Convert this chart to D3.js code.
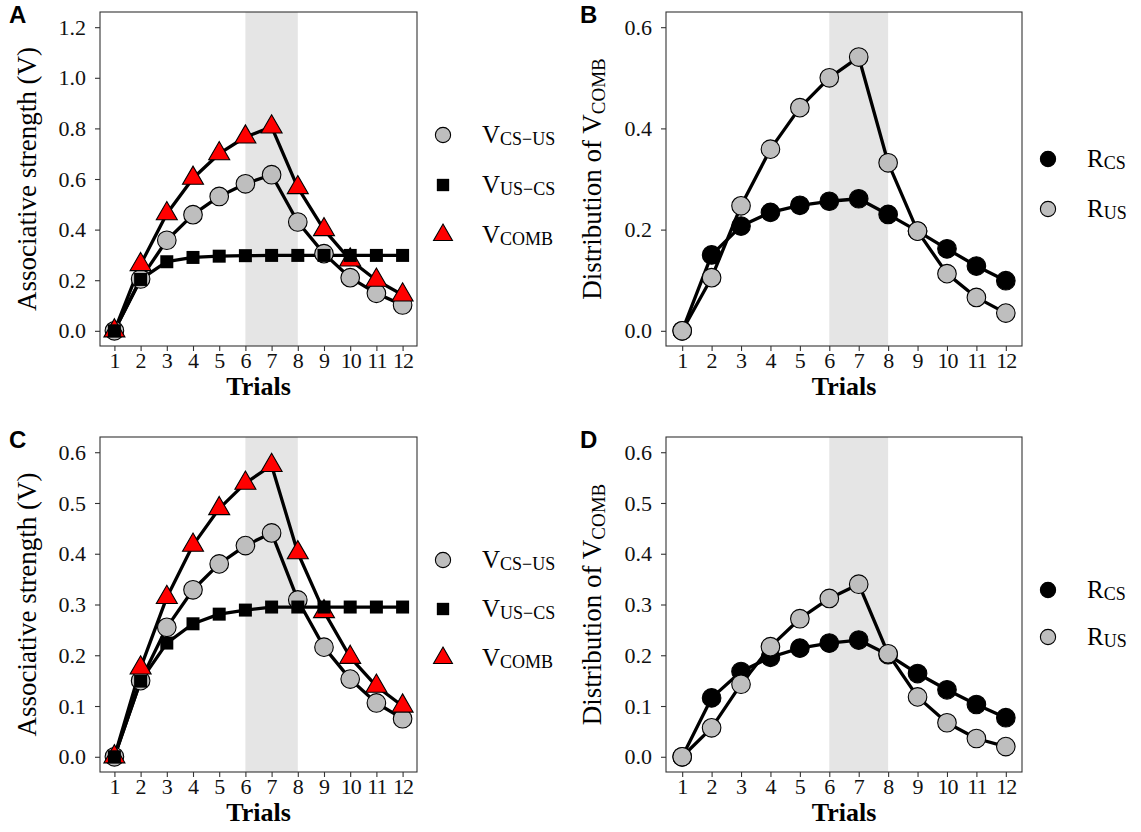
<!DOCTYPE html>
<html>
<head>
<meta charset="utf-8">
<script src="https://cdn.jsdelivr.net/npm/d3@7"></script>
<style>
  body { margin: 0; background: #fff; }
  svg text { font-family: 'Liberation Serif', 'Times New Roman', serif; }
</style>
</head>
<body>
<div id="chart"></div>
<script>
// trials on the x axis
const trials = [1, 2, 3, 4, 5, 6, 7, 8, 9, 10, 11, 12];
const shadeTrials = [6, 8];

// panel A, associative strength
const aCsUs = [0, 0.205, 0.358, 0.459, 0.531, 0.581, 0.617, 0.430, 0.305, 0.210, 0.148, 0.102];
const aUsCs = [0, 0.203, 0.273, 0.290, 0.295, 0.297, 0.298, 0.298, 0.298, 0.298, 0.298, 0.298];
const aComb = [0, 0.262, 0.463, 0.603, 0.700, 0.766, 0.806, 0.566, 0.400, 0.280, 0.200, 0.142];
const aTicks = [0, 0.2, 0.4, 0.6, 0.8, 1.0, 1.2];

// panel B, distribution of V_COMB
const bRcs = [0, 0.150, 0.207, 0.234, 0.248, 0.256, 0.261, 0.230, 0.197, 0.162, 0.128, 0.099];
const bRus = [0, 0.105, 0.247, 0.359, 0.441, 0.500, 0.541, 0.332, 0.197, 0.113, 0.066, 0.035];
const bTicks = [0, 0.2, 0.4, 0.6];

// panel C, associative strength
const cCsUs = [0, 0.150, 0.255, 0.329, 0.380, 0.416, 0.441, 0.309, 0.216, 0.153, 0.106, 0.075];
const cUsCs = [0, 0.149, 0.224, 0.262, 0.281, 0.289, 0.295, 0.295, 0.295, 0.295, 0.295, 0.295];
const cComb = [0, 0.175, 0.314, 0.417, 0.489, 0.539, 0.574, 0.402, 0.286, 0.196, 0.139, 0.100];
const cTicks = [0, 0.1, 0.2, 0.3, 0.4, 0.5, 0.6];

// panel D, distribution of V_COMB
const dRcs = [0, 0.116, 0.168, 0.196, 0.214, 0.224, 0.230, 0.201, 0.164, 0.132, 0.103, 0.077];
const dRus = [0, 0.057, 0.143, 0.217, 0.272, 0.312, 0.340, 0.203, 0.118, 0.067, 0.036, 0.020];
const dTicks = [0, 0.1, 0.2, 0.3, 0.4, 0.5, 0.6];

const W = 1141, H = 832;
const GREY = '#bebebe', RED = '#ff0000', INK = '#000';

const svg = d3.select('#chart').append('svg')
  .attr('width', W)
  .attr('height', H)
  .attr('viewBox', `0 0 ${W} ${H}`);

class TrialPanel {
  constructor(parent, config) {
    let defaults = {
      left: 0, top: 0, width: 300, height: 300,
      yMax: 0.6, ticks: [], series: [], legend: [],
      letter: 'A', yTitle: '', yTitleSub: '',
      legendX: 0, legendRows: []
    };
    Object.assign(this, defaults, config);
    this.g = parent.append('g').attr('transform', `translate(${this.left},${this.top})`);
    this.init();
  }

  init() {
    this.makeScales();
    this.drawShade();
    this.drawAxes();
    this.drawSeries();
    this.drawFrame();
    this.drawTitles();
    this.drawLegend();
  }

  makeScales() {
    let xPad = (trials[trials.length - 1] - trials[0]) * 0.05;
    this.x = d3.scaleLinear()
      .domain([trials[0] - xPad, trials[trials.length - 1] + xPad])
      .range([0, this.width]);
    this.y = d3.scaleLinear()
      .domain([-this.yMax * 0.05, this.yMax * 1.05])
      .range([this.height, 0]);
  }

  drawShade() {
    this.g.append('rect')
      .attr('x', this.x(shadeTrials[0]))
      .attr('y', 0)
      .attr('width', this.x(shadeTrials[1]) - this.x(shadeTrials[0]))
      .attr('height', this.height)
      .attr('fill', '#e5e5e5');
  }

  drawAxes() {
    let xAxis = this.g.append('g')
      .attr('transform', `translate(0,${this.height})`)
      .call(d3.axisBottom(this.x).tickValues(trials).tickFormat(d3.format('d'))
        .tickSize(5).tickSizeOuter(0).tickPadding(1));
    let yAxis = this.g.append('g')
      .call(d3.axisLeft(this.y).tickValues(this.ticks).tickFormat(d3.format('.1f'))
        .tickSize(5).tickSizeOuter(0).tickPadding(9));
    [xAxis, yAxis].forEach((ax) => {
      ax.select('.domain').remove();
      ax.selectAll('line').attr('stroke', '#333').attr('stroke-width', 1.1);
      ax.selectAll('text')
        .attr('fill', '#111')
        .style('font-family', "'Liberation Serif', serif")
        .style('font-size', '22px');
    });
    // squeeze the two-digit trial labels a little, like the source
    xAxis.selectAll('text').attr('letter-spacing', (d) => d >= 10 ? '-1px' : null);
  }

  drawSeries() {
    let line = d3.line()
      .x((d, i) => this.x(trials[i]))
      .y((d) => this.y(d));

    this.series.forEach((s) => {
      this.g.append('path')
        .datum(s.values)
        .attr('d', line)
        .attr('fill', 'none')
        .attr('stroke', INK)
        .attr('stroke-width', 3.3)
        .attr('stroke-linejoin', 'round');
    });

    this.series.slice().sort((a, b) => a.order - b.order).forEach((s) => {
      this.g.append('g').selectAll('path')
        .data(s.values)
        .join('path')
        .attr('transform', (d, i) => `translate(${this.x(trials[i])},${this.y(d)})`)
        .attr('d', this.symbolPath(s.shape, 1))
        .attr('fill', s.fill)
        .attr('stroke', INK)
        .attr('stroke-width', s.shape === 'square' ? 0 : 1.1);
    });
  }

  symbolPath(shape, k) {
    if (shape === 'circle') return d3.symbol(d3.symbolCircle, Math.PI * Math.pow(9.3 * k, 2))();
    if (shape === 'square') return d3.symbol(d3.symbolSquare, Math.pow(13 * k, 2))();
    let side = 21 * k;
    return d3.symbol(d3.symbolTriangle, Math.sqrt(3) / 4 * side * side)();
  }

  drawFrame() {
    this.g.append('rect')
      .attr('width', this.width)
      .attr('height', this.height)
      .attr('fill', 'none')
      .attr('stroke', '#333')
      .attr('stroke-width', 1.1);
  }

  drawTitles() {
    this.g.append('text')
      .attr('x', this.width / 2)
      .attr('y', this.height + 49)
      .attr('text-anchor', 'middle')
      .style('font-size', '26px')
      .style('font-weight', 'bold')
      .text('Trials');

    let t = this.g.append('text')
      .attr('transform', `translate(${this.yTitleX},${this.height / 2}) rotate(-90)`)
      .attr('text-anchor', 'middle')
      .style('font-size', '27px');
    t.append('tspan').text(this.yTitle);
    if (this.yTitleSub) {
      t.append('tspan').attr('dy', 4).style('font-size', '19px').text(this.yTitleSub);
    }

    this.g.append('text')
      .attr('x', this.letterX)
      .attr('y', 11)
      .style('font-family', "'Liberation Sans', Arial, sans-serif")
      .style('font-weight', 'bold')
      .style('font-size', '24px')
      .text(this.letter);
  }

  drawLegend() {
    let legendK = { circle: 0.82, square: 0.95, triangle: 0.9 };
    this.legend.forEach((item, i) => {
      let cy = this.legendRows[i];
      this.g.append('path')
        .attr('transform', `translate(${this.legendX},${cy})`)
        .attr('d', this.symbolPath(item.shape, legendK[item.shape]))
        .attr('fill', item.fill)
        .attr('stroke', INK)
        .attr('stroke-width', item.shape === 'square' ? 0 : 1.1);
      let t = this.g.append('text')
        .attr('x', this.legendX + 39)
        .attr('y', cy + 8)
        .style('font-size', '25px');
      t.append('tspan').text(item.main);
      t.append('tspan').attr('dy', 2).style('font-size', '18px').text(item.sub);
    });
  }
}

const assocLegend = [
  { shape: 'circle', fill: GREY, main: 'V', sub: 'CS\u2212US' },
  { shape: 'square', fill: INK, main: 'V', sub: 'US\u2212CS' },
  { shape: 'triangle', fill: RED, main: 'V', sub: 'COMB' }
];
const distLegend = [
  { shape: 'circle', fill: INK, main: 'R', sub: 'CS' },
  { shape: 'circle', fill: GREY, main: 'R', sub: 'US' }
];

new TrialPanel(svg, {
  left: 100, top: 12, width: 317, height: 334, yMax: 1.2, ticks: aTicks,
  series: [
    { values: aCsUs, shape: 'circle', fill: GREY, order: 0 },
    { values: aComb, shape: 'triangle', fill: RED, order: 1 },
    { values: aUsCs, shape: 'square', fill: INK, order: 2 }
  ],
  letter: 'A', letterX: -91, yTitle: 'Associative strength (V)', yTitleX: -64,
  legend: assocLegend, legendX: 343, legendRows: [123, 173, 223]
});

new TrialPanel(svg, {
  left: 666, top: 12, width: 356, height: 334, yMax: 0.6, ticks: bTicks,
  series: [
    { values: bRcs, shape: 'circle', fill: INK, order: 0 },
    { values: bRus, shape: 'circle', fill: GREY, order: 1 }
  ],
  letter: 'B', letterX: -86, yTitle: 'Distribution of V', yTitleSub: 'COMB', yTitleX: -65,
  legend: distLegend, legendX: 382, legendRows: [147, 197]
});

new TrialPanel(svg, {
  left: 100, top: 437, width: 317, height: 335, yMax: 0.6, ticks: cTicks,
  series: [
    { values: cCsUs, shape: 'circle', fill: GREY, order: 0 },
    { values: cComb, shape: 'triangle', fill: RED, order: 1 },
    { values: cUsCs, shape: 'square', fill: INK, order: 2 }
  ],
  letter: 'C', letterX: -91, yTitle: 'Associative strength (V)', yTitleX: -64,
  legend: assocLegend, legendX: 343, legendRows: [123, 172, 221]
});

new TrialPanel(svg, {
  left: 666, top: 437, width: 356, height: 335, yMax: 0.6, ticks: dTicks,
  series: [
    { values: dRcs, shape: 'circle', fill: INK, order: 0 },
    { values: dRus, shape: 'circle', fill: GREY, order: 1 }
  ],
  letter: 'D', letterX: -86, yTitle: 'Distribution of V', yTitleSub: 'COMB', yTitleX: -65,
  legend: distLegend, legendX: 382, legendRows: [153, 200]
});
</script>
</body>
</html>
